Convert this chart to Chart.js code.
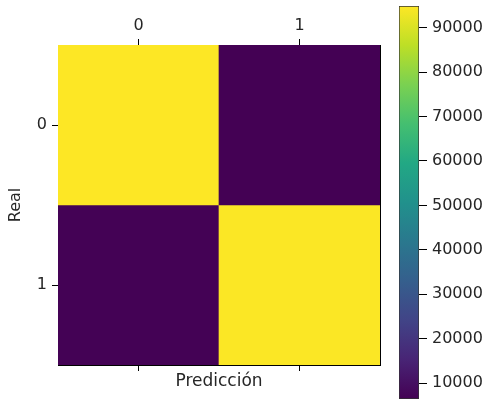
<!DOCTYPE html>
<html>
<head>
<meta charset="utf-8">
<script src="https://cdn.jsdelivr.net/npm/chart.js@4/dist/chart.umd.min.js"></script>
<style>
  html, body { margin: 0; padding: 0; background: #fff; }
  #wrap { position: relative; width: 488px; height: 405px; }
  #main { position: absolute; left: 0; top: 0; }
  #cbar { position: absolute; left: 390px; top: 0; }
</style>
</head>
<body>
<div id="wrap">
  <canvas id="main" width="390" height="405"></canvas>
  <canvas id="cbar" width="98" height="405"></canvas>
</div>
<script>
// ---- data ----
const predLabels = ['0', '1'];          // columns (Predicción)
const realLabels = ['0', '1'];          // rows (Real)
const row0 = [94870, 6420];
const row1 = [6690, 94530];
const cbarTicks = [10000, 20000, 30000, 40000, 50000, 60000, 70000, 80000, 90000];
const xTitle = 'Predicción';
const yTitle = 'Real';

// ---- viridis ----
const viridisStops = ['#440154', '#482475', '#414487', '#355f8d', '#2a788e',
  '#21918c', '#22a884', '#44bf70', '#7ad151', '#bddf26', '#fde725'];
function hexToRgb(h) { return [1, 3, 5].map(i => parseInt(h.substr(i, 2), 16)); }
function viridis(t) {
  t = Math.max(0, Math.min(1, t));
  const n = viridisStops.length - 1;
  const i = Math.min(n - 1, Math.floor(t * n));
  const f = t * n - i;
  const a = hexToRgb(viridisStops[i]), b = hexToRgb(viridisStops[i + 1]);
  const c = a.map((v, k) => Math.round(v + (b[k] - v) * f));
  return 'rgb(' + c.join(',') + ')';
}
const allVals = row0.concat(row1);
const vMin = Math.min(...allVals), vMax = Math.max(...allVals);
const norm = v => (v - vMin) / (vMax - vMin);

const FONT = 'DejaVu Sans';
const TXT = '#262626';
Chart.defaults.font.family = FONT;
Chart.defaults.color = TXT;

const rows = [row0, row1];
const datasets = rows.map((row, r) => ({
  label: realLabels[r],
  data: row.map(() => [r - 0.5, r + 0.5]),
  backgroundColor: row.map(v => viridis(norm(v))),
  borderWidth: 0,
  barPercentage: 1,
  categoryPercentage: 1,
  grouped: false
}));

const axisBorder = { display: true, color: '#000', width: 1 };
const yTicksFixed = s => { s.ticks = realLabels.map((_, i) => ({ value: i })); };

new Chart(document.getElementById('main'), {
  type: 'bar',
  data: { labels: predLabels, datasets },
  options: {
    responsive: false,
    animation: false,
    layout: { padding: 0 },
    plugins: { legend: { display: false }, tooltip: { enabled: false } },
    scales: {
      x: {
        position: 'top', offset: true,
        grid: { offset: false, drawOnChartArea: false, drawTicks: true, tickLength: 6, color: '#000' },
        border: axisBorder,
        ticks: { font: { size: 16 }, padding: 4, maxRotation: 0, color: TXT },
        afterFit: s => { s.height = 45; s.paddingLeft = 0; s.paddingRight = 0; }
      },
      x2: {
        type: 'category', position: 'bottom', offset: true,
        grid: { offset: false, drawOnChartArea: false, drawTicks: true, tickLength: 6, color: '#000' },
        border: axisBorder,
        ticks: { display: false },
        title: { display: true, text: xTitle, font: { size: 17 }, color: TXT, padding: { top: 0, bottom: 13 } },
        afterFit: s => { s.height = 40; s.paddingLeft = 0; s.paddingRight = 0; }
      },
      y: {
        type: 'linear', position: 'left', min: -0.5, max: 1.5, reverse: true,
        afterBuildTicks: yTicksFixed,
        grid: { drawOnChartArea: false, drawTicks: true, tickLength: 6, color: '#000' },
        border: axisBorder,
        ticks: { font: { size: 16 }, padding: 5, color: TXT, callback: v => realLabels[v] },
        title: { display: true, text: yTitle, font: { size: 16 }, color: TXT, padding: { top: 6, bottom: 0 } },
        afterFit: s => { s.width = 58; s.paddingTop = 0; s.paddingBottom = 0; }
      },
      y2: {
        type: 'linear', position: 'right', min: -0.5, max: 1.5, reverse: true,
        grid: { drawOnChartArea: false, drawTicks: false },
        border: axisBorder,
        ticks: { display: false },
        afterFit: s => { s.width = 10; s.paddingTop = 0; s.paddingBottom = 0; }
      }
    }
  }
});

// ---- colorbar ----
new Chart(document.getElementById('cbar'), {
  type: 'bar',
  data: {
    labels: [''],
    datasets: [{
      data: [[vMin, vMax]],
      backgroundColor: ctx => {
        const a = ctx.chart.chartArea;
        if (!a) return viridisStops[0];
        const g = ctx.chart.ctx.createLinearGradient(0, a.bottom, 0, a.top);
        viridisStops.forEach((c, i) => g.addColorStop(i / (viridisStops.length - 1), c));
        return g;
      },
      borderColor: '#333',
      borderWidth: 1,
      borderSkipped: false,
      barPercentage: 1,
      categoryPercentage: 1
    }]
  },
  options: {
    responsive: false,
    animation: false,
    layout: { padding: { left: 9, top: 6, bottom: 6, right: 0 } },
    plugins: { legend: { display: false }, tooltip: { enabled: false } },
    scales: {
      x: { display: false, offset: true },
      y: {
        position: 'right', min: vMin, max: vMax,
        afterBuildTicks: s => { s.ticks = cbarTicks.map(v => ({ value: v })); },
        grid: { drawOnChartArea: false, drawTicks: true, tickLength: 8, color: '#000' },
        border: { display: false },
        ticks: { font: { size: 16 }, padding: 5, color: TXT, callback: v => String(v) },
        afterFit: s => { s.width = 69; s.paddingTop = 0; s.paddingBottom = 0; }
      }
    }
  }
});
</script>
</body>
</html>
